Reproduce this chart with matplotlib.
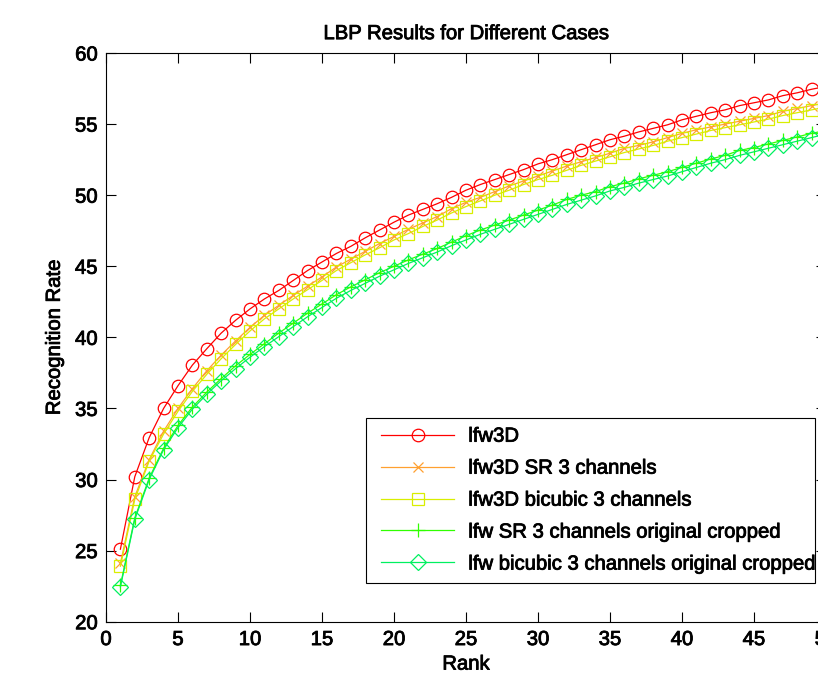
#!/usr/bin/env python3
"""LBP recognition rate vs rank for the lfw / lfw3D cases."""

import matplotlib
matplotlib.use("Agg")
import matplotlib.pyplot as plt
import matplotlib.patheffects as pe
from matplotlib.legend_handler import HandlerLine2D
from matplotlib.lines import Line2D


rank = list(range(1, 51))

lfw3d = [
    25.1, 30.2, 32.95, 35.0, 36.6, 38.05, 39.2, 40.3, 41.2, 42.0,
    42.7, 43.3, 44.0, 44.7, 45.3, 45.9, 46.4, 47.0, 47.55, 48.1,
    48.6, 49.0, 49.4, 49.85, 50.35, 50.75, 51.1, 51.45, 51.8, 52.2,
    52.5, 52.85, 53.2, 53.55, 53.9, 54.15, 54.45, 54.7, 54.95, 55.3,
    55.55, 55.8, 56.0, 56.3, 56.5, 56.7, 57.0, 57.2, 57.45, 57.65,
]
lfw3d_sr = [
    24.1, 28.8, 31.4, 33.4, 35.0, 36.4, 37.65, 38.75, 39.75, 40.7,
    41.55, 42.25, 42.95, 43.6, 44.25, 44.95, 45.5, 46.05, 46.6, 47.1,
    47.6, 48.05, 48.5, 49.05, 49.5, 49.85, 50.25, 50.65, 51.0, 51.35,
    51.7, 52.05, 52.35, 52.65, 52.95, 53.3, 53.5, 53.75, 54.05, 54.35,
    54.6, 54.8, 55.0, 55.2, 55.4, 55.6, 55.9, 56.1, 56.3, 56.5,
]
lfw3d_bicubic = [
    23.9, 28.6, 31.3, 33.2, 34.8, 36.2, 37.4, 38.5, 39.5, 40.45,
    41.3, 42.0, 42.7, 43.35, 44.0, 44.7, 45.25, 45.8, 46.3, 46.85,
    47.3, 47.8, 48.25, 48.75, 49.2, 49.6, 50.0, 50.35, 50.75, 51.1,
    51.4, 51.75, 52.1, 52.4, 52.7, 53.0, 53.25, 53.5, 53.8, 54.05,
    54.3, 54.55, 54.75, 54.95, 55.15, 55.35, 55.6, 55.8, 56.0, 56.2,
]
lfw_sr = [
    22.55, 27.3, 30.1, 32.2, 33.8, 35.1, 36.15, 37.1, 38.0, 38.8,
    39.55, 40.3, 41.0, 41.7, 42.35, 43.0, 43.55, 44.05, 44.55, 45.0,
    45.45, 45.85, 46.25, 46.7, 47.15, 47.55, 47.9, 48.25, 48.6, 48.95,
    49.3, 49.7, 50.0, 50.25, 50.6, 50.85, 51.15, 51.4, 51.65, 51.95,
    52.25, 52.55, 52.8, 53.15, 53.35, 53.6, 53.85, 54.1, 54.35, 54.55,
]
lfw_bicubic = [
    22.45, 27.2, 30.0, 32.1, 33.65, 34.95, 36.0, 36.95, 37.8, 38.6,
    39.35, 40.05, 40.75, 41.45, 42.1, 42.75, 43.3, 43.8, 44.3, 44.75,
    45.2, 45.6, 46.0, 46.45, 46.85, 47.25, 47.6, 47.95, 48.3, 48.65,
    49.0, 49.35, 49.65, 49.95, 50.3, 50.55, 50.85, 51.1, 51.35, 51.65,
    51.95, 52.25, 52.5, 52.8, 53.05, 53.3, 53.55, 53.8, 54.05, 54.3,
]

labels = [
    "lfw3D",
    "lfw3D SR 3 channels",
    "lfw3D bicubic 3 channels",
    "lfw SR 3 channels original cropped",
    "lfw bicubic 3 channels original cropped",
]
x_ticks = list(range(0, 55, 5))
y_ticks = list(range(20, 65, 5))

SERIES_STYLE = [
    ("#FF0000", "o", 9.0),
    ("#FFA030", "x", 7.5),
    ("#D8EE00", "s", 8.5),
    ("#30FF00", "+", 10.0),
    ("#00F060", "D", 8.0),
]

plt.rcParams["font.family"] = ["Liberation Sans", "DejaVu Sans"]
FONT = 14.6
HEAVY = [pe.withStroke(linewidth=0.6, foreground="black")]


def main() -> None:
  fig = plt.figure(figsize=(8.18, 6.78), dpi=100)
  ax = fig.add_axes([106 / 818, 1 - 621.7 / 678, 720 / 818, 568.7 / 678])

  all_series = [lfw3d, lfw3d_sr, lfw3d_bicubic, lfw_sr, lfw_bicubic]
  for values, label, (color, marker, size) in zip(all_series, labels, SERIES_STYLE):
    ax.plot(
        rank,
        values,
        color=color,
        marker=marker,
        markersize=size,
        markerfacecolor="none",
        markeredgecolor=color,
        markeredgewidth=0.9,
        linewidth=0.9,
        label=label,
        clip_on=False,
    )

  ax.set_xlim(0, 50)
  ax.set_ylim(20, 60)
  ax.set_xticks(x_ticks)
  ax.set_yticks(y_ticks)
  ax.tick_params(direction="in", length=7, width=0.8, top=True, right=True,
                 labelsize=FONT, pad=6)
  for spine in ax.spines.values():
    spine.set_linewidth(0.8)

  ax.set_title("LBP Results for Different Cases", fontsize=FONT, pad=10)
  ax.set_xlabel("Rank", fontsize=FONT, labelpad=4)
  ax.set_ylabel("Recognition Rate", fontsize=FONT, labelpad=8)

  leg = ax.legend(
      loc="lower left",
      bbox_to_anchor=(0.361, 0.0686, 0.624, 0.299),
      mode="expand",
      borderaxespad=0,
      fancybox=False,
      edgecolor="black",
      framealpha=1,
      fontsize=FONT,
      handlelength=3.9,
      handletextpad=0.7,
      borderpad=0.45,
      labelspacing=0.64,
      handler_map={Line2D: HandlerLine2D(xpad=0.3)},
  )
  leg.get_frame().set_linewidth(0.8)

  texts = [ax.title, ax.xaxis.label, ax.yaxis.label]
  texts += ax.get_xticklabels() + ax.get_yticklabels() + leg.get_texts()
  for text in texts:
    text.set_path_effects(HEAVY)

  fig.savefig("out.png", dpi=100)
  plt.close(fig)


if __name__ == "__main__":
  main()
